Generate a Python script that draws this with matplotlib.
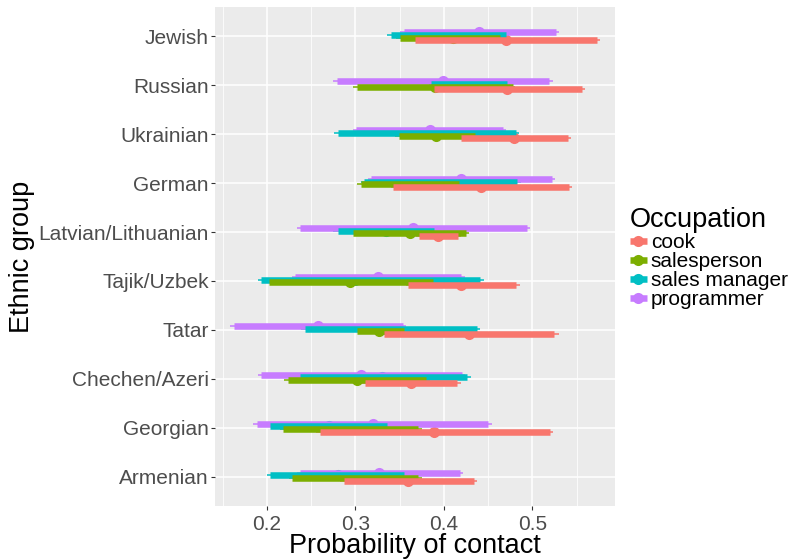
import matplotlib

matplotlib.use("Agg")
import matplotlib.pyplot as plt
import numpy as np
from matplotlib.lines import Line2D

plt.rcParams["font.family"] = ["Liberation Sans", "DejaVu Sans"]

# ethnic groups, listed top to bottom
groups = ["Jewish", "Russian", "Ukrainian", "German", "Latvian/Lithuanian",
          "Tajik/Uzbek", "Tatar", "Chechen/Azeri", "Georgian", "Armenian"]
occupations = ["cook", "salesperson", "sales manager", "programmer"]
colors = ["#F8766D", "#7CAE00", "#00BFC4", "#C77CFF"]

# estimate, inner interval (thick), outer interval (thin)
cook_est = [0.470, 0.472, 0.479, 0.442, 0.394, 0.420, 0.429, 0.363, 0.389, 0.360]
cook_lo = [0.368, 0.389, 0.420, 0.343, 0.372, 0.360, 0.332, 0.311, 0.260, 0.287]
cook_hi = [0.573, 0.556, 0.540, 0.541, 0.416, 0.482, 0.525, 0.415, 0.520, 0.434]
cook_lo95 = [0.364, 0.386, 0.416, 0.340, 0.369, 0.357, 0.329, 0.307, 0.256, 0.283]
cook_hi95 = [0.577, 0.560, 0.544, 0.545, 0.419, 0.486, 0.530, 0.419, 0.524, 0.438]

sales_est = [0.410, 0.390, 0.391, 0.370, 0.362, 0.294, 0.327, 0.302, 0.300, 0.300]
sales_lo = [0.350, 0.302, 0.349, 0.306, 0.298, 0.202, 0.302, 0.224, 0.218, 0.229]
sales_hi = [0.464, 0.478, 0.435, 0.417, 0.425, 0.388, 0.355, 0.380, 0.371, 0.371]
sales_lo95 = [0.346, 0.298, 0.345, 0.302, 0.293, 0.198, 0.298, 0.220, 0.215, 0.225]
sales_hi95 = [0.468, 0.481, 0.439, 0.421, 0.429, 0.391, 0.359, 0.384, 0.375, 0.375]

manager_est = [0.405, 0.430, 0.380, 0.400, 0.335, 0.300, 0.330, 0.330, 0.270, 0.280]
manager_lo = [0.340, 0.386, 0.281, 0.310, 0.280, 0.194, 0.243, 0.238, 0.204, 0.204]
manager_hi = [0.470, 0.472, 0.482, 0.483, 0.389, 0.441, 0.437, 0.426, 0.336, 0.355]
manager_lo95 = [0.336, 0.383, 0.276, 0.307, 0.275, 0.190, 0.239, 0.234, 0.200, 0.200]
manager_hi95 = [0.474, 0.475, 0.485, 0.487, 0.393, 0.445, 0.441, 0.431, 0.339, 0.359]

prog_est = [0.440, 0.399, 0.384, 0.420, 0.365, 0.326, 0.258, 0.307, 0.320, 0.327]
prog_lo = [0.355, 0.279, 0.301, 0.318, 0.238, 0.232, 0.163, 0.194, 0.189, 0.238]
prog_hi = [0.527, 0.519, 0.467, 0.522, 0.494, 0.420, 0.354, 0.421, 0.450, 0.418]
prog_lo95 = [0.351, 0.275, 0.297, 0.314, 0.234, 0.229, 0.159, 0.190, 0.185, 0.234]
prog_hi95 = [0.530, 0.523, 0.470, 0.526, 0.498, 0.424, 0.357, 0.424, 0.454, 0.422]

x_ticks = [0.2, 0.3, 0.4, 0.5]
x_minor = [0.15, 0.25, 0.35, 0.45, 0.55]

series = {
    "cook": (cook_est, cook_lo, cook_hi, cook_lo95, cook_hi95),
    "salesperson": (sales_est, sales_lo, sales_hi, sales_lo95, sales_hi95),
    "sales manager": (manager_est, manager_lo, manager_hi, manager_lo95, manager_hi95),
    "programmer": (prog_est, prog_lo, prog_hi, prog_lo95, prog_hi95),
}
dodge = {"cook": -0.081, "salesperson": -0.027, "sales manager": 0.027, "programmer": 0.081}
color_of = dict(zip(occupations, colors))

fig = plt.figure(figsize=(7.98, 5.6), dpi=100)
ax = fig.add_axes([215 / 798, 1 - 506 / 560, 400 / 798, 499 / 560])
ax.set_facecolor("#EBEBEB")

ypos = np.arange(len(groups))[::-1] + 1.0

# thin ranges and points go underneath, thick bars on top
# programmer drawn first, cook last (cook ends up on top)
for k, occ in enumerate(occupations[::-1]):
    est, lo, hi, lo95, hi95 = series[occ]
    yy = ypos + dodge[occ]
    c = color_of[occ]
    ax.hlines(yy, lo95, hi95, color=c, lw=1.1, zorder=3 + k)
    ax.plot(est, yy, "o", ms=8, color=c, mec="none", zorder=8 + k)
    ax.hlines(yy, lo, hi, color=c, lw=4.7, zorder=13 + k)

ax.set_xlim(0.1415, 0.5935)
ax.set_ylim(0.4, 10.6)
ax.set_xticks(x_ticks)
ax.set_xticklabels([f"{v:.1f}" for v in x_ticks])
ax.set_xticks(x_minor, minor=True)
ax.set_yticks(ypos)
ax.set_yticklabels(groups)
ax.grid(which="major", color="white", lw=1.1, zorder=1)
ax.grid(which="minor", axis="x", color="white", lw=0.55, zorder=1)
ax.set_axisbelow(True)
for s in ax.spines.values():
    s.set_visible(False)
ax.tick_params(which="major", length=2.7, width=0.8, color="#333333",
               labelcolor="#4D4D4D", labelsize=15)
ax.tick_params(axis="x", which="major", pad=3.6)
ax.tick_params(axis="y", which="major", pad=1.8)
ax.tick_params(which="minor", length=0)

ax.set_xlabel("Probability of contact", fontsize=19.5, labelpad=-0.5)
ax.set_ylabel("Ethnic group", fontsize=19.5, labelpad=2.5)

handles = [Line2D([0], [0], color=color_of[o], lw=4.7, marker="o", ms=8,
                  mec="none", solid_capstyle="butt") for o in occupations]
leg = fig.legend(handles, occupations, loc="center left",
                 bbox_to_anchor=(630 / 798, 1 - 258 / 560), frameon=False,
                 title="Occupation", title_fontsize=19.5, fontsize=15,
                 handlelength=0.8, handletextpad=0.2, labelspacing=0.0,
                 borderpad=0, borderaxespad=0, alignment="left")

fig.savefig("out.png", dpi=100)
